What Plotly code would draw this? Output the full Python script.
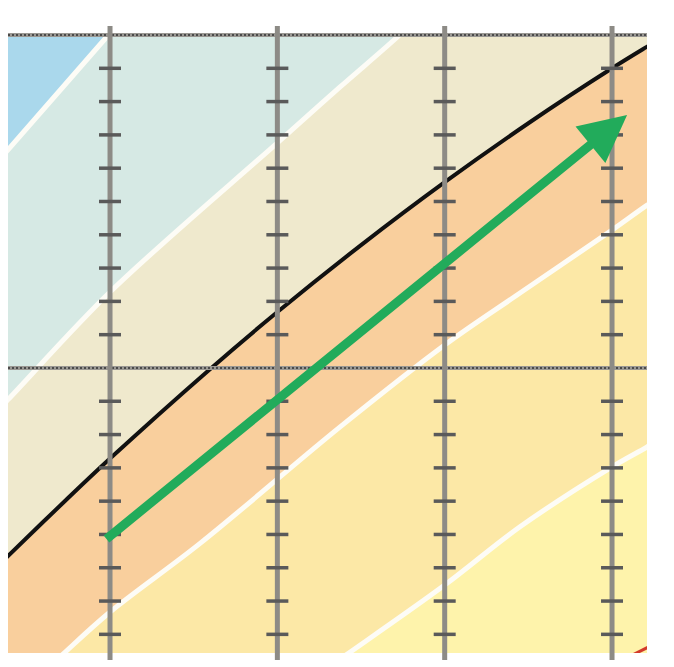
import plotly.graph_objects as go

# ---- data (x in grid-column units, y in grid-row units) ----
edge1_x = [0.30, 0.39, 0.99, 1.05]
edge1_y = [16.03, 16.55, 20.0, 20.35]

edge2_x = [0.30, 0.39, 1.0, 2.0, 2.375, 2.73, 2.85]
edge2_y = [8.6, 9.05, 12.28, 16.76, 18.44, 20.0, 20.6]

black_x = [0.30, 0.39, 0.74, 1.0, 1.58, 2.0, 2.5, 3.0, 3.5, 4.0, 4.21, 4.35]
black_y = [3.90, 4.35, 6.05, 7.28, 9.89, 11.68, 13.69, 15.58, 17.35, 19.0, 19.65, 20.07]

edge3_x = [0.52, 0.70, 1.0, 1.54, 2.375, 3.0, 3.45, 4.0, 4.21, 4.40]
edge3_y = [0.5, 1.32, 2.67, 4.74, 8.23, 10.69, 12.25, 14.14, 14.89, 15.5]

edge4_x = [2.16, 2.393, 3.0, 3.45, 4.0, 4.21, 4.40]
edge4_y = [0.5, 1.32, 3.48, 5.23, 7.03, 7.63, 8.2]

red_x = [4.05, 4.25]
red_y = [1.2, 1.7]

arrow_x = [0.97, 4.09]
arrow_y = [4.83, 17.6]

grid_x = [1, 2, 3, 4]
major_y = [10, 20]
minor_y = [2, 3, 4, 5, 6, 7, 8, 9, 11, 12, 13, 14, 15, 16, 17, 18, 19]

band_colors = ["#fce8a6", "#f9cf9d", "#efe9cd", "#d6e9e4", "#aad8ec"]
bg_color = "#fef3ab"

# ---- figure ----
XLO, XHI, YLO, YHI = -1, 6, -5, 30


def above(xs, ys):
    return xs + [XHI, XLO, XLO], ys + [YHI, YHI, YLO]


fig = go.Figure()
edges = [(edge4_x, edge4_y), (edge3_x, edge3_y), (black_x, black_y),
         (edge2_x, edge2_y), (edge1_x, edge1_y)]
for (ex, ey), col in zip(edges, band_colors):
    px, py = above(ex, ey)
    fig.add_trace(go.Scatter(x=px, y=py, mode="lines", fill="toself",
                             fillcolor=col, line=dict(width=0),
                             hoverinfo="skip", showlegend=False))

for ex, ey in [(edge1_x, edge1_y), (edge2_x, edge2_y),
               (edge3_x, edge3_y), (edge4_x, edge4_y)]:
    fig.add_trace(go.Scatter(x=ex, y=ey, mode="lines",
                             line=dict(color="#fdfcf6", width=5, shape="spline"),
                             hoverinfo="skip", showlegend=False))

fig.add_trace(go.Scatter(x=black_x, y=black_y, mode="lines",
                         line=dict(color="#111111", width=4, shape="spline"),
                         hoverinfo="skip", showlegend=False))
fig.add_trace(go.Scatter(x=red_x, y=red_y, mode="lines",
                         line=dict(color="#d23a2a", width=3),
                         hoverinfo="skip", showlegend=False))

shapes = []
for yv in major_y:
    shapes.append(dict(type="line", xref="paper", yref="y", x0=0, x1=1,
                       y0=yv, y1=yv, line=dict(color="#9a9893", width=4)))
    shapes.append(dict(type="line", xref="paper", yref="y", x0=0, x1=1,
                       y0=yv, y1=yv, line=dict(color="#4a4a4a", width=2, dash="2px,2px")))
for gx in grid_x:
    shapes.append(dict(type="line", xref="x", yref="paper", x0=gx, x1=gx,
                       y0=-0.0113, y1=1.0113, line=dict(color="#8d8b86", width=5)))
    for ty in minor_y:
        shapes.append(dict(type="line", xref="x", yref="y", xsizemode="pixel",
                           xanchor=gx, x0=-11, x1=11, y0=ty, y1=ty,
                           line=dict(color="#5a5a5a", width=3.5)))

fig.update_layout(
    width=666, height=659,
    margin=dict(l=0, r=27, t=25, b=14),
    paper_bgcolor="white", plot_bgcolor=bg_color,
    xaxis=dict(range=[0.3903, 4.209], visible=False, showgrid=False, zeroline=False),
    yaxis=dict(range=[1.44, 20.06], visible=False, showgrid=False, zeroline=False),
    shapes=shapes,
    annotations=[dict(x=arrow_x[1], y=arrow_y[1], ax=arrow_x[0], ay=arrow_y[0],
                      xref="x", yref="y", axref="x", ayref="y", text="",
                      showarrow=True, arrowhead=2, arrowsize=1.05, arrowwidth=9,
                      arrowcolor="#22ab5b", standoff=0, startstandoff=0)],
    showlegend=False,
)

fig.write_html("out.html")
